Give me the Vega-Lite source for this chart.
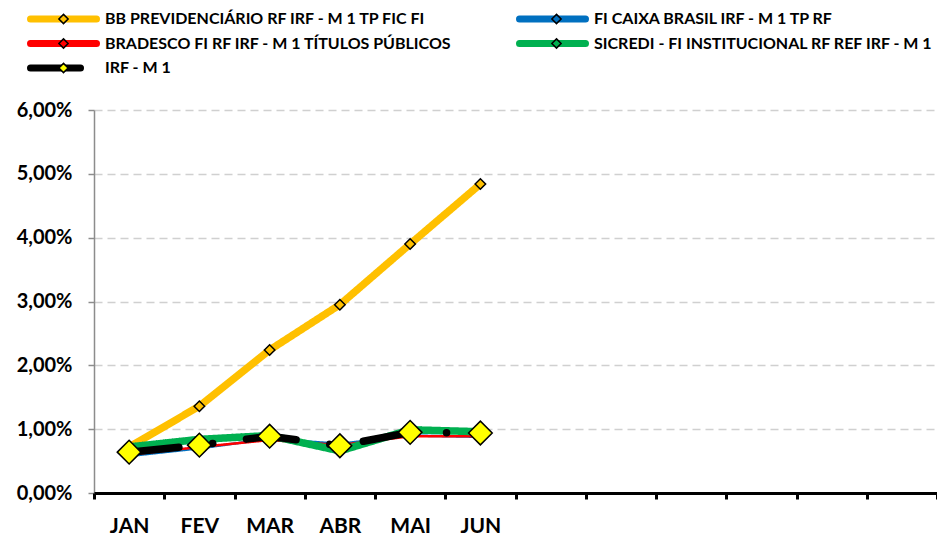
{
  "$schema": "https://vega.github.io/schema/vega-lite/v6.json",
  "width": 843,
  "height": 383,
  "autosize": {"type": "none"},
  "padding": {"left": 94, "top": 110, "right": 0, "bottom": 45},
  "background": "white",
  "config": {
    "view": {"stroke": null},
    "font": "Lato"
  },
  "data": {
    "values": [
      {"series": "BB PREVIDENCIÁRIO RF IRF - M 1 TP FIC FI", "month": "JAN", "value": 0.0072},
      {"series": "BB PREVIDENCIÁRIO RF IRF - M 1 TP FIC FI", "month": "FEV", "value": 0.0136},
      {"series": "BB PREVIDENCIÁRIO RF IRF - M 1 TP FIC FI", "month": "MAR", "value": 0.0224},
      {"series": "BB PREVIDENCIÁRIO RF IRF - M 1 TP FIC FI", "month": "ABR", "value": 0.0295},
      {"series": "BB PREVIDENCIÁRIO RF IRF - M 1 TP FIC FI", "month": "MAI", "value": 0.0390},
      {"series": "BB PREVIDENCIÁRIO RF IRF - M 1 TP FIC FI", "month": "JUN", "value": 0.0484},
      {"series": "FI CAIXA BRASIL IRF - M 1 TP RF", "month": "JAN", "value": 0.0058},
      {"series": "FI CAIXA BRASIL IRF - M 1 TP RF", "month": "FEV", "value": 0.0070},
      {"series": "FI CAIXA BRASIL IRF - M 1 TP RF", "month": "MAR", "value": 0.0085},
      {"series": "FI CAIXA BRASIL IRF - M 1 TP RF", "month": "ABR", "value": 0.0077},
      {"series": "FI CAIXA BRASIL IRF - M 1 TP RF", "month": "MAI", "value": 0.0090},
      {"series": "FI CAIXA BRASIL IRF - M 1 TP RF", "month": "JUN", "value": 0.0088},
      {"series": "BRADESCO FI RF IRF - M 1 TÍTULOS PÚBLICOS", "month": "JAN", "value": 0.0060},
      {"series": "BRADESCO FI RF IRF - M 1 TÍTULOS PÚBLICOS", "month": "FEV", "value": 0.0072},
      {"series": "BRADESCO FI RF IRF - M 1 TÍTULOS PÚBLICOS", "month": "MAR", "value": 0.0083},
      {"series": "BRADESCO FI RF IRF - M 1 TÍTULOS PÚBLICOS", "month": "ABR", "value": 0.0075},
      {"series": "BRADESCO FI RF IRF - M 1 TÍTULOS PÚBLICOS", "month": "MAI", "value": 0.0089},
      {"series": "BRADESCO FI RF IRF - M 1 TÍTULOS PÚBLICOS", "month": "JUN", "value": 0.0089},
      {"series": "SICREDI - FI INSTITUCIONAL RF REF IRF - M 1", "month": "JAN", "value": 0.0072},
      {"series": "SICREDI - FI INSTITUCIONAL RF REF IRF - M 1", "month": "FEV", "value": 0.0084},
      {"series": "SICREDI - FI INSTITUCIONAL RF REF IRF - M 1", "month": "MAR", "value": 0.0090},
      {"series": "SICREDI - FI INSTITUCIONAL RF REF IRF - M 1", "month": "ABR", "value": 0.0066},
      {"series": "SICREDI - FI INSTITUCIONAL RF REF IRF - M 1", "month": "MAI", "value": 0.0099},
      {"series": "SICREDI - FI INSTITUCIONAL RF REF IRF - M 1", "month": "JUN", "value": 0.0096},
      {"series": "IRF - M 1", "month": "JAN", "value": 0.0064},
      {"series": "IRF - M 1", "month": "FEV", "value": 0.0075},
      {"series": "IRF - M 1", "month": "MAR", "value": 0.0089},
      {"series": "IRF - M 1", "month": "ABR", "value": 0.0074},
      {"series": "IRF - M 1", "month": "MAI", "value": 0.0095},
      {"series": "IRF - M 1", "month": "JUN", "value": 0.0094}
    ]
  },
  "encoding": {
    "x": {
      "field": "month",
      "type": "nominal",
      "sort": null,
      "scale": {
        "type": "band",
        "domain": ["JAN", "FEV", "MAR", "ABR", "MAI", "JUN", "JUL", "AGO", "SET", "OUT", "NOV", "DEZ"],
        "paddingInner": 0,
        "paddingOuter": 0
      },
      "axis": {
        "title": null,
        "labelAngle": 0,
        "labelExpr": "indexof(['JAN','FEV','MAR','ABR','MAI','JUN'], datum.value) >= 0 ? datum.value : ''",
        "labelFont": "Lato",
        "labelFontSize": 21,
        "labelFontWeight": "bold",
        "labelColor": "#000000",
        "labelPadding": 16,
        "domainColor": "#000000",
        "domainWidth": 3,
        "tickColor": "#000000",
        "tickWidth": 3,
        "tickSize": 6,
        "tickBand": "extent",
        "grid": false,
        "zindex": 2
      }
    },
    "y": {
      "field": "value",
      "type": "quantitative",
      "scale": {"domain": [0, 0.06], "nice": false, "zero": true},
      "axis": {
        "title": null,
        "values": [0, 0.01, 0.02, 0.03, 0.04, 0.05, 0.06],
        "labelExpr": "replace(format(datum.value, '.2%'), '.', ',')",
        "labelFont": "Lato",
        "labelFontSize": 20,
        "labelFontWeight": "bold",
        "labelColor": "#000000",
        "labelPadding": 16,
        "domainColor": "#8c8c8c",
        "domainWidth": 1.5,
        "tickColor": "#8c8c8c",
        "tickSize": 6,
        "tickWidth": 1.5,
        "grid": true,
        "gridColor": "#d0d0d0",
        "gridDash": [8, 5],
        "gridWidth": 1.5
      }
    }
  },
  "layer": [
    {
      "mark": {"type": "line", "strokeCap": "round", "strokeJoin": "round"},
      "encoding": {
        "color": {
          "field": "series",
          "type": "nominal",
          "scale": {
            "domain": ["BB PREVIDENCIÁRIO RF IRF - M 1 TP FIC FI", "BRADESCO FI RF IRF - M 1 TÍTULOS PÚBLICOS", "IRF - M 1", "FI CAIXA BRASIL IRF - M 1 TP RF", "SICREDI - FI INSTITUCIONAL RF REF IRF - M 1"],
            "range": ["#FFC000", "#FF0000", "#000000", "#0070C0", "#00B050"]
          },
          "legend": {
            "title": null,
            "orient": "none",
            "legendX": -67,
            "legendY": -100,
            "columns": 2,
            "columnPadding": 64,
            "rowPadding": 6.5,
            "clipHeight": 18,
            "padding": 0,
            "symbolType": "stroke",
            "symbolSize": 4356,
            "symbolStrokeWidth": 7,
            "labelOffset": 5,
            "labelFont": "Lato",
            "labelFontSize": 16,
            "labelFontWeight": "bold",
            "labelColor": "#000000",
            "labelLimit": 600,
            "zindex": 1,
            "encode": {"symbols": {"update": {"strokeCap": {"value": "round"}}}}
          }
        },
        "strokeDash": {
          "field": "series",
          "type": "nominal",
          "scale": {
            "domain": ["BB PREVIDENCIÁRIO RF IRF - M 1 TP FIC FI", "BRADESCO FI RF IRF - M 1 TÍTULOS PÚBLICOS", "IRF - M 1", "FI CAIXA BRASIL IRF - M 1 TP RF", "SICREDI - FI INSTITUCIONAL RF REF IRF - M 1"],
            "range": [[1, 0], [1, 0], [50, 34, 0.1, 34], [1, 0], [1, 0]]
          },
          "legend": {
            "title": null,
            "orient": "none",
            "legendX": -67,
            "legendY": -100,
            "columns": 2,
            "columnPadding": 64,
            "rowPadding": 6.5,
            "clipHeight": 18,
            "padding": 0,
            "symbolType": "stroke",
            "symbolSize": 4356,
            "symbolStrokeWidth": 7,
            "labelOffset": 5,
            "labelFont": "Lato",
            "labelFontSize": 16,
            "labelFontWeight": "bold",
            "labelColor": "#000000",
            "labelLimit": 600,
            "zindex": 1
          }
        },
        "strokeWidth": {
          "condition": {"test": "datum.series === 'FI CAIXA BRASIL IRF - M 1 TP RF' || datum.series === 'BRADESCO FI RF IRF - M 1 TÍTULOS PÚBLICOS'", "value": 2.5},
          "value": 7.5
        }
      }
    },
    {
      "mark": {"type": "point", "shape": "diamond", "filled": true, "opacity": 1, "stroke": "#000000", "strokeWidth": 1.5},
      "encoding": {
        "fill": {
          "field": "series",
          "type": "nominal",
          "sort": ["BB PREVIDENCIÁRIO RF IRF - M 1 TP FIC FI", "BRADESCO FI RF IRF - M 1 TÍTULOS PÚBLICOS", "IRF - M 1", "FI CAIXA BRASIL IRF - M 1 TP RF", "SICREDI - FI INSTITUCIONAL RF REF IRF - M 1"],
          "scale": {"range": ["#FFC000", "#FF0000", "#FFFF00", "#0070C0", "#00B050"]},
          "legend": {
            "title": null,
            "orient": "none",
            "legendX": -67,
            "legendY": -100,
            "columns": 2,
            "columnPadding": 412,
            "rowPadding": 6.5,
            "clipHeight": 18,
            "padding": 0,
            "symbolType": "M-1,0M1,0M0,-0.14L0.14,0L0,0.14L-0.14,0Z",
            "symbolSize": 4356,
            "symbolStrokeWidth": 1.5,
            "symbolStrokeColor": "#000000",
            "symbolOffset": 2.5,
            "labelOffset": 10,
            "labelExpr": "''",
            "labelFont": "Lato",
            "labelFontSize": 16,
            "labelFontWeight": "bold",
            "labelLimit": 600,
            "zindex": 3
          }
        },
        "size": {
          "condition": {"test": "datum.series === 'IRF - M 1'", "value": 560},
          "value": 110
        }
      }
    }
  ]
}
